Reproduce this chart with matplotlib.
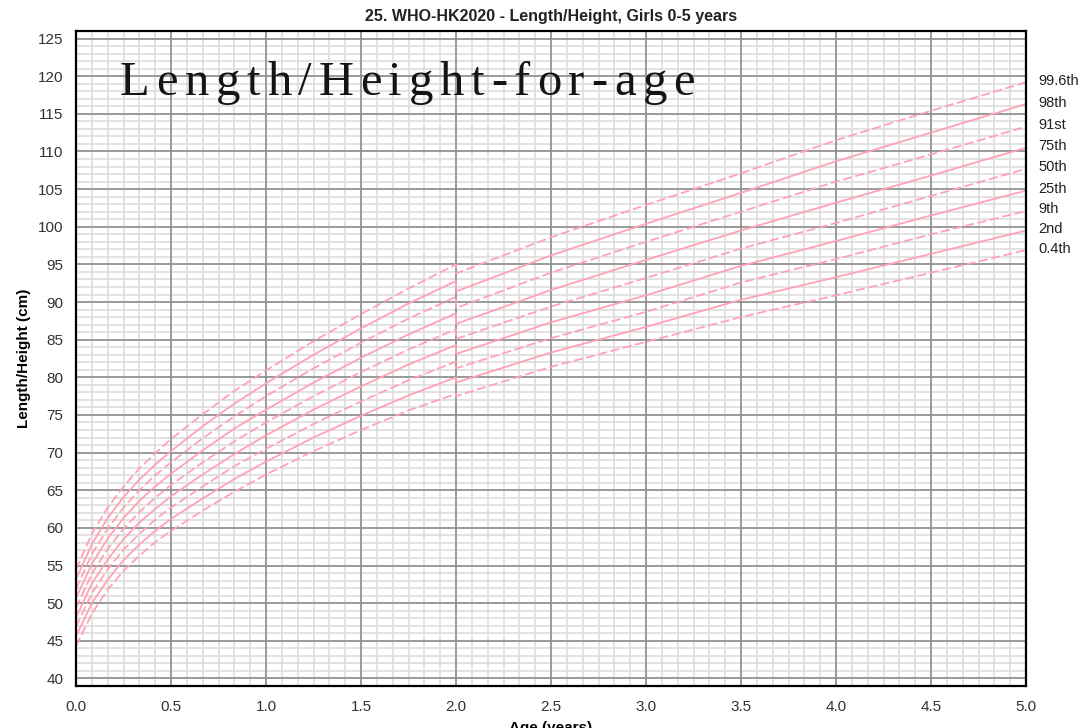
import matplotlib
matplotlib.use('Agg')
import matplotlib.pyplot as plt
import numpy as np
from matplotlib.ticker import MultipleLocator, FormatStrFormatter

# age in months; 24 appears twice: end of length (lying) and start of height (standing)
AGE_MONTHS = [0, 1, 2, 3, 4, 5, 6, 8, 10, 12, 15, 18, 21, 24, 24, 30, 36, 42, 48, 54, 60]

P0_4 = [44.3, 48.6, 51.8, 54.3, 56.3, 58.1, 59.6, 62.3, 64.8, 67.1, 70.2, 73.0, 75.6, 77.8, 77.5, 81.4, 84.7, 88.0, 90.9, 93.9, 96.9]
P2 = [45.6, 50.0, 53.1, 55.7, 57.8, 59.6, 61.2, 63.9, 66.5, 68.8, 72.0, 74.9, 77.6, 80.0, 79.3, 83.3, 86.7, 90.3, 93.3, 96.4, 99.5]
P9 = [46.9, 51.3, 54.5, 57.1, 59.2, 61.1, 62.7, 65.5, 68.2, 70.5, 73.8, 76.8, 79.6, 82.1, 81.2, 85.2, 88.7, 92.6, 95.7, 99.0, 102.1]
P25 = [48.1, 52.6, 55.8, 58.5, 60.7, 62.5, 64.2, 67.1, 69.8, 72.3, 75.7, 78.8, 81.7, 84.3, 83.1, 87.3, 90.9, 94.8, 98.1, 101.5, 104.8]
P50 = [49.4, 53.9, 57.2, 59.9, 62.1, 64.0, 65.7, 68.7, 71.5, 74.0, 77.5, 80.7, 83.7, 86.4, 85.1, 89.4, 93.2, 97.1, 100.5, 104.1, 107.7]
P75 = [50.7, 55.2, 58.6, 61.3, 63.6, 65.5, 67.2, 70.3, 73.2, 75.7, 79.3, 82.6, 85.7, 88.5, 87.1, 91.6, 95.6, 99.5, 103.2, 106.8, 110.5]
P91 = [51.9, 56.5, 59.9, 62.7, 65.0, 67.0, 68.7, 71.9, 74.8, 77.5, 81.2, 84.6, 87.8, 90.7, 89.2, 93.9, 98.0, 102.0, 106.0, 109.6, 113.3]
P98 = [53.2, 57.8, 61.3, 64.1, 66.4, 68.4, 70.2, 73.5, 76.5, 79.2, 83.0, 86.5, 89.8, 92.8, 91.4, 96.2, 100.4, 104.5, 108.7, 112.5, 116.3]
P99_6 = [54.5, 59.2, 62.7, 65.5, 67.9, 69.9, 71.8, 75.1, 78.2, 80.9, 84.8, 88.4, 91.8, 95.0, 93.8, 98.6, 102.9, 107.1, 111.5, 115.4, 119.2]

CENTILE_LABELS = ['0.4th', '2nd', '9th', '25th', '50th', '75th', '91st', '98th', '99.6th']
CENTILE_VALUES = [P0_4, P2, P9, P25, P50, P75, P91, P98, P99_6]

TITLE = '25. WHO-HK2020 - Length/Height, Girls 0-5 years'
INSCRIPTION = 'Length/Height-for-age'

LINE_COLOR = '#ffa2b6'
SANS = 'Liberation Sans'
X_MAX, Y_MIN, Y_MAX = 5, 39, 126


def draw_spaced_text(fig, text, x_px, y_px, width_px, fontsize):
    # letter-spaced title: place each character, spread to fill width_px
    renderer = fig.canvas.get_renderer()
    W, H = fig.bbox.width, fig.bbox.height
    chars = [fig.text(0, 0, ch, fontsize=fontsize, family='Liberation Serif',
                      color='#141414', va='baseline', ha='left') for ch in text]
    widths = [c.get_window_extent(renderer).width for c in chars]
    gap = (width_px - sum(widths)) / (len(text) - 1)
    x = x_px
    for c, w in zip(chars, widths):
        c.set_position((x / W, 1 - y_px / H))
        x += w + gap


def draw_grid(ax):
    # chart paper: monthly / 1 cm light lines under 0.5 yr / 5 cm dark lines
    minor_x = np.arange(0, 60 + 1) / 12
    minor_y = np.arange(Y_MIN, Y_MAX + 1)
    ax.vlines(minor_x, Y_MIN, Y_MAX, color='#dddddd', lw=1.2, zorder=0.5)
    ax.hlines(minor_y, 0, X_MAX, color='#dddddd', lw=1.2, zorder=0.5)
    major_x = np.arange(0, 11) * 0.5
    major_y = np.arange(40, 126, 5)
    ax.vlines(major_x, Y_MIN, Y_MAX, color='#8e8e8e', lw=1.2, zorder=0.6)
    ax.hlines(major_y, 0, X_MAX, color='#8e8e8e', lw=1.2, zorder=0.6)


def main():
    fig = plt.figure(figsize=(10.78, 7.28), dpi=100)
    ax = fig.add_axes([0.0705, 0.0577, 0.8813, 0.8997])

    draw_grid(ax)

    ages = [m / 12 for m in AGE_MONTHS]
    for i, (label, values) in enumerate(zip(CENTILE_LABELS, CENTILE_VALUES)):
        dashed = i % 2 == 0
        ax.plot(ages, values, color=LINE_COLOR, lw=1.3,
                dashes=(5, 2) if dashed else (None, None), zorder=3)
        ax.annotate(label, xy=(ages[-1], values[-1] + 0.2), xytext=(9, 0),
                    textcoords='offset points', va='center', ha='left',
                    fontsize=10.5, family=SANS, color='#222222', annotation_clip=False)

    ax.set_xlim(0, X_MAX)
    ax.set_ylim(Y_MIN, Y_MAX)
    ax.xaxis.set_major_locator(MultipleLocator(0.5))
    ax.xaxis.set_major_formatter(FormatStrFormatter('%.1f'))
    ax.set_yticks(range(40, 126, 5))

    ax.tick_params(which='both', length=0)
    ax.tick_params(axis='y', pad=9, labelsize=11, labelcolor='#333333')
    ax.tick_params(axis='x', pad=10, labelsize=11, labelcolor='#333333')
    for lab in ax.get_xticklabels() + ax.get_yticklabels():
        lab.set_family(SANS)
    for spine in ax.spines.values():
        spine.set_color('black')
        spine.set_linewidth(1.6)
        spine.set_zorder(4)

    ax.set_title(TITLE, fontsize=11.5, fontweight='bold', family=SANS, color='#222222', pad=7)
    ax.set_ylabel('Length/Height (cm)', fontsize=11, fontweight='bold', family=SANS, labelpad=5)
    ax.set_xlabel('Age (years)', fontsize=11, fontweight='bold', family=SANS, labelpad=5)

    draw_spaced_text(fig, INSCRIPTION, 120, 95, 575, 35)

    fig.savefig('out.png', dpi=100)
    plt.close(fig)


if __name__ == '__main__':
    main()
